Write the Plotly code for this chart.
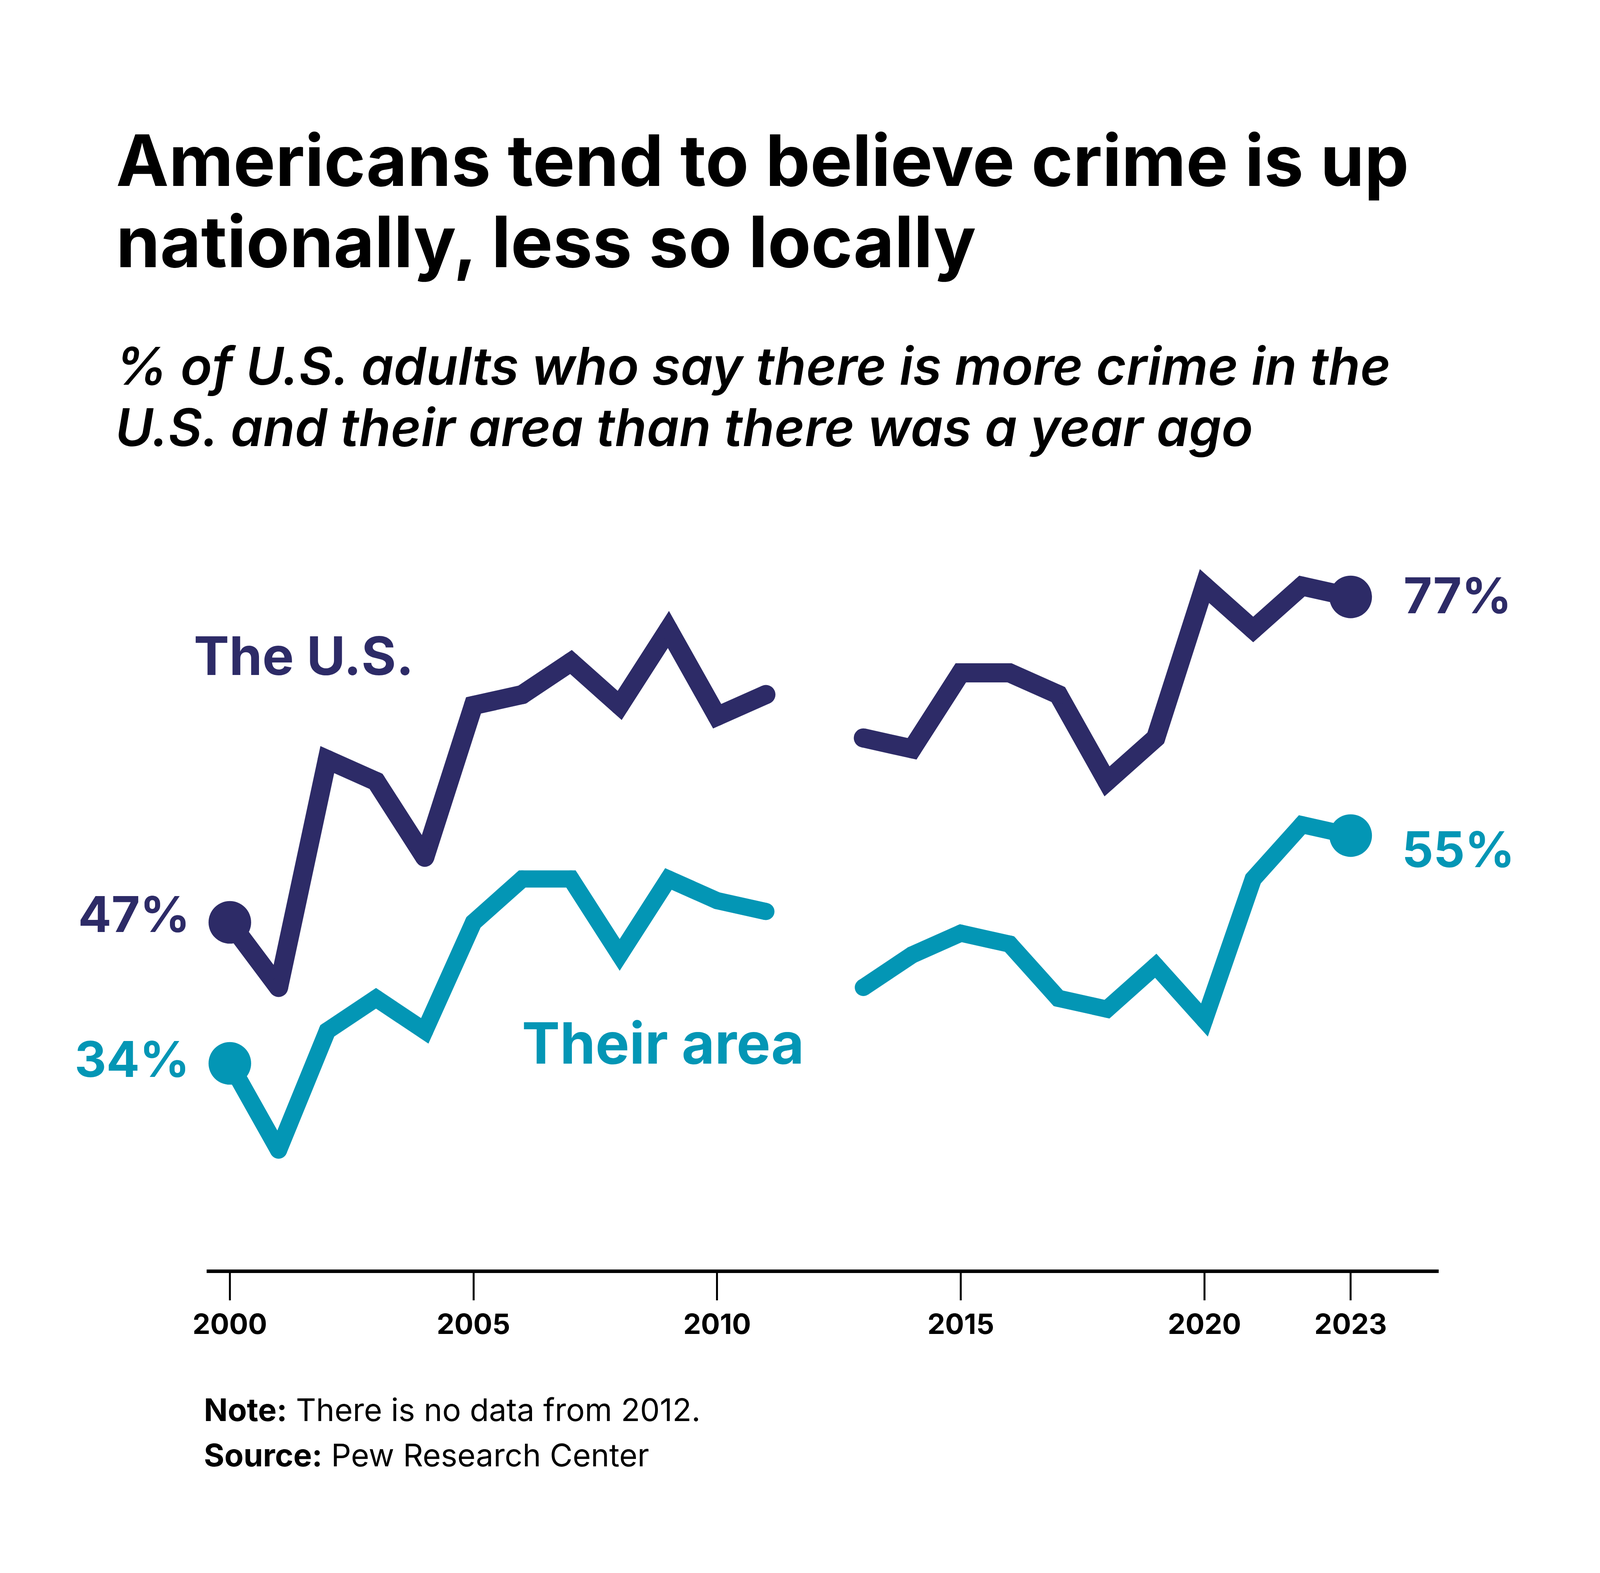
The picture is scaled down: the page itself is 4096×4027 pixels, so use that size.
import plotly.graph_objects as go

# ---------------- data ----------------
years = list(range(2000, 2024))
us_pct = [47, 41, 62, 60, 53, 67, 68, 71, 67, 74, 66, 68, None,
          64, 63, 70, 70, 68, 60, 64, 78, 74, 78, 77]
area_pct = [34, 26, 37, 40, 37, 47, 51, 51, 44, 51, 49, 48, None,
            41, 44, 46, 45, 40, 39, 43, 38, 51, 56, 55]
tick_years = [2000, 2005, 2010, 2015, 2020, 2023]
tick_text = ["2000", "2005", "2010", "2015", "2020", "2023"]

title_lines = ["Americans tend to believe crime is up", "nationally, less so locally"]
subtitle_lines = ["% of U.S. adults who say there is more crime in the",
                  "U.S. and their area than there was a year ago"]
series_names = ["The U.S.", "Their area"]
note_text = "<b>Note:</b> There is no data from 2012."
source_text = "<b>Source:</b> Pew Research Center"

# ---------------- style ----------------
W, H = 4096, 4027
L, R, T, B = 521, 421, 1298, 785
PW, PH = W - L - R, H - T - B
NAVY = "#2D2B67"
TEAL = "#0396B5"
FONT = "Inter, 'Open Sans', sans-serif"


def px(x):
    return (x - L) / PW


def py(y):
    return (H - B - y) / PH


def sizes(vals, end, mid):
    s = [mid] * len(vals)
    s[0] = end
    s[-1] = end
    return s


fig = go.Figure()
fig.add_trace(go.Scatter(
    x=years, y=us_pct, mode="lines+markers", connectgaps=False,
    line=dict(color=NAVY, width=49),
    marker=dict(color=NAVY, size=sizes(us_pct, 109, 49), opacity=1, line=dict(width=0)),
    hoverinfo="skip", showlegend=False))
fig.add_trace(go.Scatter(
    x=years, y=area_pct, mode="lines+markers", connectgaps=False,
    line=dict(color=TEAL, width=44),
    marker=dict(color=TEAL, size=sizes(area_pct, 109, 44), opacity=1, line=dict(width=0)),
    hoverinfo="skip", showlegend=False))

ann = []
# title
for line, yc in zip(title_lines, [402, 610]):
    ann.append(dict(text=line, x=px(287), y=py(yc), xref="paper", yref="paper",
                    xanchor="left", yanchor="middle", showarrow=False,
                    font=dict(family=FONT, size=181, color="#000000", weight=700)))
for line, yc in zip(subtitle_lines, [929, 1085]):
    ann.append(dict(text=line, x=px(285), y=py(yc), xref="paper", yref="paper",
                    xanchor="left", yanchor="middle", showarrow=False,
                    font=dict(family=FONT, size=133, color="#000000", weight=600,
                              style="italic")))
# series labels
ann.append(dict(text=series_names[0], x=px(486), y=py(1670), xref="paper", yref="paper",
                xanchor="left", yanchor="middle", showarrow=False,
                font=dict(family=FONT, size=136, color=NAVY, weight=700)))
ann.append(dict(text=series_names[1], x=px(1326), y=py(2662), xref="paper", yref="paper",
                xanchor="left", yanchor="middle", showarrow=False,
                font=dict(family=FONT, size=146, color=TEAL, weight=700)))
# end-point value labels
lab_font = dict(family=FONT, size=126, weight=700)
ann.append(dict(text=f"{us_pct[0]}%", x=years[0], y=us_pct[0], xanchor="right",
                yanchor="middle", xshift=-100, yshift=21, showarrow=False,
                font=dict(lab_font, color=NAVY)))
ann.append(dict(text=f"{area_pct[0]}%", x=years[0], y=area_pct[0], xanchor="right",
                yanchor="middle", xshift=-100, yshift=11, showarrow=False,
                font=dict(lab_font, color=TEAL)))
ann.append(dict(text=f"{us_pct[-1]}%", x=years[-1], y=us_pct[-1], xanchor="left",
                yanchor="middle", xshift=133, yshift=4, showarrow=False,
                font=dict(lab_font, color=NAVY)))
ann.append(dict(text=f"{area_pct[-1]}%", x=years[-1], y=area_pct[-1], xanchor="left",
                yanchor="middle", xshift=129, yshift=-35, showarrow=False,
                font=dict(lab_font, color=TEAL)))
# notes
for line, yc in zip([note_text, source_text], [3600, 3716]):
    ann.append(dict(text=line, x=px(512), y=py(yc), xref="paper", yref="paper",
                    xanchor="left", yanchor="middle", showarrow=False,
                    font=dict(family=FONT, size=80, color="#000000", weight=400)))

fig.update_layout(
    width=W, height=H,
    margin=dict(l=L, r=R, t=T, b=B, pad=0),
    paper_bgcolor="white", plot_bgcolor="white",
    annotations=ann,
    xaxis=dict(range=[1999.524, 2024.806], tickvals=tick_years, ticktext=tick_text,
               showgrid=False, zeroline=False, showline=True, linecolor="#000000",
               linewidth=9, ticks="outside", ticklen=70, tickwidth=5,
               tickcolor="#000000",
               tickfont=dict(family=FONT, size=72, color="#000000", weight=700)),
    yaxis=dict(range=[15, 85], visible=False, showgrid=False, zeroline=False),
)
fig.write_html("out.html")
